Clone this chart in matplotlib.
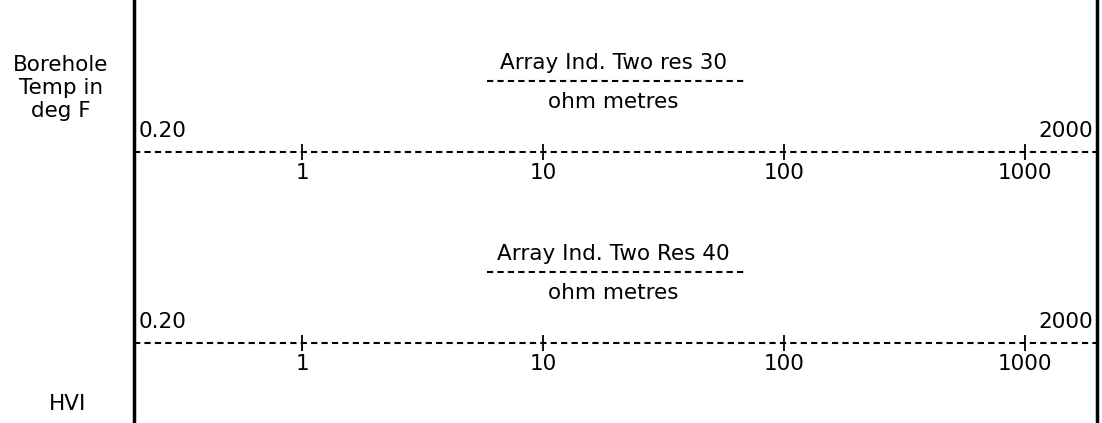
import matplotlib
matplotlib.use("Agg")
import matplotlib.pyplot as plt

plt.rcParams['font.family'] = ['DejaVu Sans']

# curve header data
curve_names = ["Array Ind. Two res 30", "Array Ind. Two Res 40"]
curve_units = ["ohm metres", "ohm metres"]
scale_left = [0.2, 0.2]
scale_right = [2000, 2000]
tick_values = [1, 10, 100, 1000]
left_labels = ["Borehole\nTemp in\ndeg F", "HVI"]

W, H = 1102, 423
fig = plt.figure(figsize=(W / 100, H / 100), dpi=100)

x0, x1 = 134, 1097
ax = fig.add_axes([x0 / W, 0, (x1 - x0) / W, 1])
ax.set_xscale('log')
ax.set_ylim(H, 0)
ax.axis('off')

line_y = [152, 343]
fs = 15.5
ytr = ax.get_yaxis_transform()  # x in axes fraction, y in pixels-from-top
for i, name in enumerate(curve_names):
    lo, hi = scale_left[i], scale_right[i]
    ax.set_xlim(lo, hi)
    y = line_y[i]
    ax.plot([lo, hi], [y, y], color='black', lw=1.5, ls=(0, (3, 2)))
    ax.plot(tick_values, [y] * len(tick_values), ls='none', marker='|',
            ms=11, mew=1.3, color='black')
    for t in tick_values:
        ax.text(t, y + 21, str(t), ha='center', va='center', fontsize=fs)
    ax.text(0.005, y - 21, f"{lo:.2f}", ha='left', va='center', fontsize=fs,
            transform=ytr)
    ax.text(0.996, y - 21, f"{hi:g}", ha='right', va='center', fontsize=fs,
            transform=ytr)
    # title, dashed separator, units
    ax.text(0.498, y - 89, name, ha='center', va='center', fontsize=fs,
            transform=ytr)
    ax.plot([0.367, 0.634], [y - 71, y - 71], color='black', lw=1.5,
            ls=(0, (3, 2)), transform=ytr)
    ax.text(0.498, y - 50, curve_units[i], ha='center', va='center',
            fontsize=fs, transform=ytr)

# track border lines
fig.add_artist(plt.Line2D([x0 / W, x0 / W], [0, 1], color='black', lw=2.5))
fig.add_artist(plt.Line2D([x1 / W, x1 / W], [0, 1], color='black', lw=2.5))

fig.text(61 / W, 1 - 88 / H, left_labels[0], ha='center', va='center',
         fontsize=fs, linespacing=1.2)
fig.text(68 / W, 1 - 404 / H, left_labels[1], ha='center', va='center',
         fontsize=fs)

fig.savefig("out.png", dpi=100)
